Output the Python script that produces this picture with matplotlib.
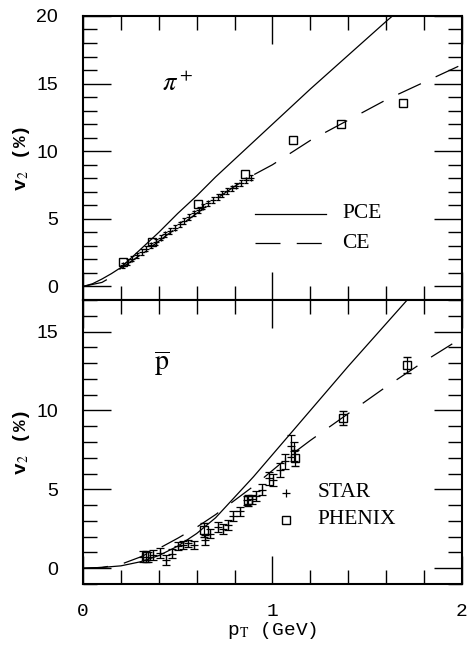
"""
Elliptic flow v2 vs pT for pi+ and anti-protons:
PCE / CE hydro curves compared with STAR and PHENIX data.
"""

import matplotlib
matplotlib.use('Agg')
import matplotlib.pyplot as plt
from matplotlib.ticker import MultipleLocator

plt.rcParams['mathtext.fontset'] = 'stix'

# ---- pi+ panel -------------------------------------------------------------
pi_pce_pt = [0.0, 0.05, 0.1, 0.15, 0.2, 0.3, 0.4, 0.5, 0.6, 0.7, 0.8, 0.9,
             1.0, 1.2, 1.4, 1.6, 1.7]
pi_pce_v2 = [0.0, 0.2, 0.55, 0.95, 1.4, 2.7, 4.0, 5.4, 6.7, 8.1, 9.4, 10.7,
             12.0, 14.6, 17.1, 19.6, 20.8]

pi_ce_pt = [0.0, 0.1, 0.15, 0.2, 0.3, 0.4, 0.5, 0.6, 0.7, 0.8, 0.9,
            1.0, 1.2, 1.4, 1.6, 1.8, 2.0]
pi_ce_v2 = [0.0, 0.3, 0.7, 1.35, 2.3, 3.35, 4.4, 5.4, 6.45, 7.4, 8.25,
            9.0, 10.8, 12.3, 13.8, 15.1, 16.4]

pi_star_pt = [0.21, 0.235, 0.26, 0.285, 0.31, 0.335, 0.36, 0.385, 0.41,
              0.435, 0.46, 0.485, 0.51, 0.535, 0.56, 0.585, 0.61, 0.635,
              0.66, 0.685, 0.71, 0.735, 0.76, 0.785, 0.81, 0.835, 0.86, 0.885]
pi_star_v2 = [1.55, 1.8, 2.05, 2.3, 2.55, 2.8, 3.05, 3.3, 3.6, 3.85, 4.1,
              4.35, 4.6, 4.85, 5.15, 5.4, 5.65, 5.9, 6.15, 6.4, 6.6, 6.85,
              7.05, 7.25, 7.45, 7.65, 7.85, 8.05]

pi_phenix_pt = [0.213, 0.362, 0.609, 0.855, 1.11, 1.36, 1.69]
pi_phenix_v2 = [1.8, 3.3, 6.1, 8.35, 10.8, 12.0, 13.6]

# ---- anti-proton panel -----------------------------------------------------
pb_pce_pt = [0.0, 0.1, 0.2, 0.3, 0.4, 0.5, 0.6, 0.7, 0.8, 0.9, 1.0, 1.1,
             1.2, 1.4, 1.6, 1.8]
pb_pce_v2 = [0.0, 0.05, 0.15, 0.4, 0.8, 1.4, 2.2, 3.2, 4.5, 5.8, 7.2, 8.6,
             10.0, 12.8, 15.5, 18.2]

pb_ce_pt = [0.0, 0.1, 0.2, 0.3, 0.4, 0.5, 0.6, 0.7, 0.8, 0.9, 1.0, 1.1,
            1.2, 1.4, 1.6, 1.8, 2.0]
pb_ce_v2 = [0.0, 0.05, 0.25, 0.7, 1.25, 1.9, 2.6, 3.4, 4.3, 5.2, 6.2, 7.2,
            8.1, 9.8, 11.5, 13.1, 14.6]

pb_star_pt = [0.318, 0.345, 0.371, 0.406, 0.438, 0.468, 0.503, 0.529, 0.556,
              0.586, 0.644, 0.670, 0.714, 0.740, 0.767, 0.793, 0.828, 0.864,
              0.890, 0.913, 0.943, 0.983, 1.005, 1.040, 1.066, 1.096, 1.113]
pb_star_v2 = [0.72, 0.70, 0.83, 0.95, 0.51, 0.93, 1.40, 1.46, 1.57, 1.46,
              1.78, 2.2, 2.6, 2.48, 2.74, 3.3, 3.6, 4.3, 4.37, 4.58, 4.97,
              5.7, 5.6, 6.24, 6.77, 7.73, 7.4]
pb_star_err = [0.35, 0.3, 0.3, 0.3, 0.3, 0.3, 0.25, 0.25, 0.25, 0.25, 0.3,
               0.3, 0.3, 0.3, 0.3, 0.3, 0.3, 0.3, 0.3, 0.3, 0.35, 0.4, 0.4,
               0.45, 0.5, 0.7, 0.6]

pb_phenix_pt = [0.33, 0.64, 0.87, 1.12, 1.37, 1.71]
pb_phenix_v2 = [0.75, 2.4, 4.3, 7.0, 9.5, 12.9]
pb_phenix_err = [0.35, 0.45, 0.35, 0.5, 0.45, 0.5]

LW = 0.9
DASH = (20, 13)
SERIF = 'Liberation Serif'
LEG_FS = 15.5


def style_axes(ax, ylim, ymajor):
    """Inward ticks on all four sides, old-school physics look."""
    ax.set_xlim(0, 2)
    ax.set_ylim(*ylim)
    ax.xaxis.set_major_locator(MultipleLocator(1))
    ax.xaxis.set_minor_locator(MultipleLocator(0.2))
    ax.yaxis.set_major_locator(MultipleLocator(ymajor))
    ax.yaxis.set_minor_locator(MultipleLocator(1))
    ax.tick_params(which='both', direction='in', top=True, right=True,
                   width=1.0, colors='black')
    ax.tick_params(which='major', length=20)
    ax.tick_params(which='minor', length=10)
    ax.tick_params(axis='y', which='major', pad=18)
    for s in ax.spines.values():
        s.set_linewidth(1.5)
    for lab in ax.get_yticklabels():
        lab.set_fontfamily('Liberation Sans')
        lab.set_fontsize(14)
    ax.set_ylabel(r'v$_2$ (%)', fontsize=14, fontfamily='Liberation Mono',
                  fontweight='bold')
    ax.yaxis.set_label_coords(-0.135, 0.5)


fig = plt.figure(figsize=(4.68, 6.52), dpi=100)
ax1 = fig.add_axes([0.1774, 0.5399, 0.8096, 0.4356])
ax2 = fig.add_axes([0.1774, 0.1043, 0.8096, 0.4356])

# top: pi+
ax1.plot(pi_pce_pt, pi_pce_v2, color='black', lw=LW)
ax1.plot(pi_ce_pt, pi_ce_v2, color='black', lw=LW, dashes=DASH)
ax1.errorbar(pi_star_pt, pi_star_v2, yerr=0.2, fmt='+', color='black',
             ms=5, mew=0.9, elinewidth=0.8, capsize=1.5)
ax1.plot(pi_phenix_pt, pi_phenix_v2, 's', mfc='none', mec='black', ms=6,
         mew=1.0)
style_axes(ax1, (-1, 20), 5)
ax1.tick_params(axis='x', labelbottom=False)
ax1.text(0.5, 15.0, r'$\pi^+$', fontsize=19, ha='center', va='center')

# legend for curves, drawn by hand
ax1.plot([0.91, 1.28], [5.37, 5.37], color='black', lw=LW)
ax1.plot([0.91, 1.28], [3.2, 3.2], color='black', lw=LW, dashes=DASH)
ax1.text(1.37, 5.37, 'PCE', fontsize=LEG_FS, fontfamily=SERIF, va='center')
ax1.text(1.37, 3.2, 'CE', fontsize=LEG_FS, fontfamily=SERIF, va='center')

# bottom: anti-proton
ax2.plot(pb_pce_pt, pb_pce_v2, color='black', lw=LW)
ax2.plot(pb_ce_pt, pb_ce_v2, color='black', lw=LW, dashes=DASH)
ax2.errorbar(pb_star_pt, pb_star_v2, yerr=pb_star_err, fmt='+',
             color='black', ms=6, mew=0.9, elinewidth=0.9, capsize=3)
ax2.errorbar(pb_phenix_pt, pb_phenix_v2, yerr=pb_phenix_err, fmt='s',
             mfc='none', mec='black', ecolor='black', ms=6, mew=1.0,
             elinewidth=0.9, capsize=3)
style_axes(ax2, (-1, 17), 5)
ax2.text(0.415, 13.0, r'$\overline{\mathrm{p}}$', fontsize=20, ha='center',
         va='center')

ax2.plot([1.07], [4.78], '+', color='black', ms=6, mew=0.9)
ax2.plot([1.07], [3.06], 's', mfc='none', mec='black', ms=6, mew=1.0)
ax2.text(1.24, 4.78, 'STAR', fontsize=LEG_FS, fontfamily=SERIF, va='center')
ax2.text(1.24, 3.06, 'PHENIX', fontsize=LEG_FS, fontfamily=SERIF,
         va='center')

ax2.set_xticks([0, 1, 2])
ax2.set_xticklabels(['0', '1', '2'], fontfamily='Liberation Mono',
                    fontsize=14)
ax2.tick_params(axis='x', pad=14)
ax2.set_xlabel(r'p$_{\rm T}$ (GeV)', fontsize=14,
               fontfamily='Liberation Mono', labelpad=0)

fig.savefig('out.png', dpi=100)
